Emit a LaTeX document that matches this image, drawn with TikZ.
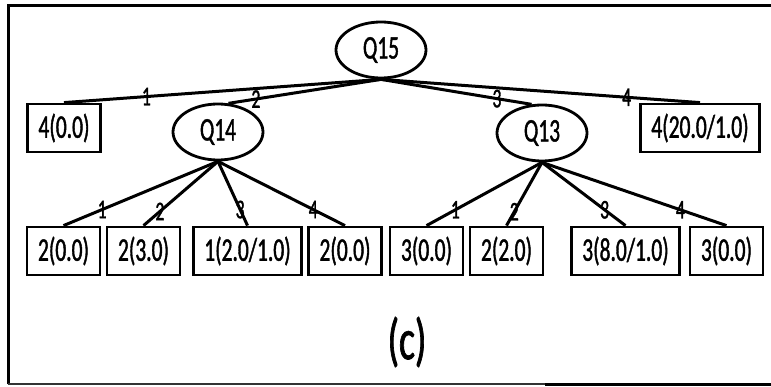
\documentclass[tikz,border=0pt]{standalone}
\usepackage{fontspec}
\setmainfont{Carlito}[FakeStretch=0.65,FakeBold=1.2]
\usetikzlibrary{shapes.geometric}
\tikzset{
  qnode/.style={draw, ellipse, line width=2.8pt, fill=white, inner sep=0pt,
    minimum width=90pt, minimum height=56pt, font=\fontsize{33}{36}\selectfont},
  leaf/.style={draw, rectangle, line width=2.8pt, fill=white, inner xsep=11pt,
    inner ysep=0pt, minimum height=48pt, font=\fontsize{33}{36}\selectfont},
  edge/.style={line width=3pt},
  lbl/.style={inner sep=0pt, font=\fontsize{27}{30}\selectfont},
}
\begin{document}
\begin{tikzpicture}[x=1pt,y=-1pt]
\useasboundingbox (0,0) rectangle (771,387);
% frame
\draw[line width=3pt] (8,384) -- (8,6) -- (771,6);
\draw[line width=1.5pt, black!80] (8,384) -- (545,384);
\draw[line width=3pt] (545,384) -- (771,384);
% inner nodes
\node[qnode] (q15) at (381,50) {Q15};
\node[qnode] (q14) at (218,132) {Q14};
\node[qnode] (q13) at (542,133) {Q13};
% leaves
\node[leaf] (t1) at (64,128) {4(0.0)};
\node[leaf] (t4) at (700,128) {4(20.0/1.0)};
\node[leaf] (a1) at (63.5,251) {2(0.0)};
\node[leaf] (a2) at (143.5,251) {2(3.0)};
\node[leaf] (a3) at (247.5,251) {1(2.0/1.0)};
\node[leaf] (a4) at (345,251) {2(0.0)};
\node[leaf] (b1) at (426.5,251) {3(0.0)};
\node[leaf] (b2) at (506.5,251) {2(2.0)};
\node[leaf] (b3) at (625.5,251) {3(8.0/1.0)};
\node[leaf] (b4) at (726.5,251) {3(0.0)};
%
\draw[edge] (q15.south) -- (t1.north) node[lbl, pos=.74] {1};
\draw[edge] (q15.south) -- (q14.70) node[lbl, pos=.82] {2};
\draw[edge] (q15.south) -- (q13.110) node[lbl, pos=.77] {3};
\draw[edge] (q15.south) -- (t4.north) node[lbl, pos=.77] {4};
\draw[edge] (q14.south) -- (a1.north) node[lbl, pos=.75] {1};
\draw[edge] (q14.south) -- (a2.north) node[lbl, pos=.78] {2};
\draw[edge] (q14.south) -- (a3.north) node[lbl, pos=.75] {3};
\draw[edge] (q14.south) -- (a4.north) node[lbl, pos=.75] {4};
\draw[edge] (q13.south) -- (b1.north) node[lbl, pos=.75] {1};
\draw[edge] (q13.south) -- (b2.north) node[lbl, pos=.78] {2};
\draw[edge] (q13.south) -- (b3.north) node[lbl, pos=.75] {3};
\draw[edge] (q13.south) -- (b4.north) node[lbl, pos=.75] {4};
% caption
\node[font=\fontsize{58}{60}\selectfont] (cap) at (407,342) {(c)};
\end{tikzpicture}
\end{document}
